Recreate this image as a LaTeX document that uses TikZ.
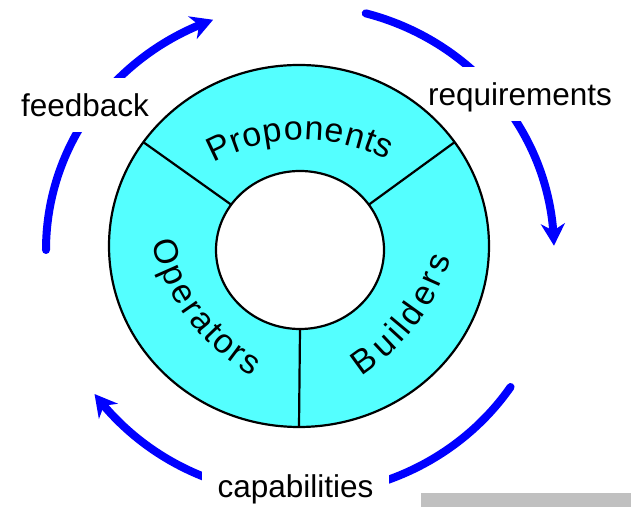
\documentclass[tikz,border=0pt]{standalone}
\usepackage{fontspec}
\setmainfont{Liberation Sans}
\usetikzlibrary{arrows.meta,bending,calc,decorations.text}
\definecolor{ringcyan}{RGB}{84,255,255}
\definecolor{arcblue}{RGB}{0,0,255}
\definecolor{bargray}{RGB}{192,192,192}
\newcommand{\labfont}{\fontsize{31.5bp}{36bp}\selectfont}
\newcommand{\ringfont}{\fontsize{34bp}{40bp}\selectfont}
\tikzset{
  flowarc/.style={draw=arcblue, line width=8bp, line cap=round,
    -{Stealth[length=22bp,width=24bp,inset=7bp]}},
  outerlabel/.style={anchor=base, fill=white, font=\labfont, inner xsep=16bp,
    inner ysep=0pt, text height=39bp, text depth=15bp},
  ringline/.style={draw=black, line width=2.2bp},
  ringtext/.style={decorate, decoration={text effects along path, text={#1},
    text effects/.cd, text along path, fit text to path,
    characters={font=\ringfont, inner sep=0pt}}}
}
\begin{document}
\begin{tikzpicture}[x=1bp, y=1bp]
\useasboundingbox (0,0) rectangle (631,507);
\coordinate (ac) at (300,257);
\coordinate (oc) at (299,261);
\coordinate (ic) at (300,257);
\coordinate (pc) at (303,182);
\coordinate (opc) at (356,312);
\coordinate (bc) at (244,312);
% grey bar
\fill[bargray] (421,0) rectangle (631,13.7);
% cycle arcs
\draw[flowarc] ($(ac)+(180:254bp and 245bp)$) arc[start angle=180, end angle=110, x radius=254bp, y radius=245bp];
\draw[flowarc] ($(ac)+(75:254bp and 245bp)$) arc[start angle=75, end angle=1, x radius=254bp, y radius=245bp];
\draw[flowarc] ($(ac)+(-34:254bp and 245bp)$) arc[start angle=-34, end angle=-144, x radius=254bp, y radius=245bp];
% labels
\node[outerlabel] (fb) at (85,390) {feedback};
\node[outerlabel] (rq) at (520,401) {requirements};
\node[outerlabel] (cp) at (295.5,9) {capabilities};
% ring
\fill[ringcyan, even odd rule] (oc) ellipse[x radius=190bp, y radius=181bp] (ic) ellipse[x radius=84bp, y radius=79bp];
\draw[ringline] (oc) ellipse[x radius=190bp, y radius=181bp];
\draw[ringline] (ic) ellipse[x radius=84bp, y radius=79bp];
\draw[ringline] ($(ic)+(145:84bp and 79bp)$) -- ($(oc)+(145:190bp and 181bp)$);
\draw[ringline] ($(ic)+(35:84bp and 79bp)$) -- ($(oc)+(35:190bp and 181bp)$);
\draw[ringline] ($(ic)+(270:84bp and 79bp)$) -- ($(oc)+(270:190bp and 181bp)$);
% ring texts
\path[ringtext=Proponents] ($(pc)+(119:185bp)$) arc[start angle=119, end angle=63, radius=185bp];
\path[ringtext=Operators] ($(opc)+(193:209bp)$) arc[start angle=193, end angle=240, radius=209bp];
\path[ringtext=Builders] ($(bc)+(303:216bp)$) arc[start angle=303, end angle=343, radius=216bp];
\end{tikzpicture}
\end{document}
